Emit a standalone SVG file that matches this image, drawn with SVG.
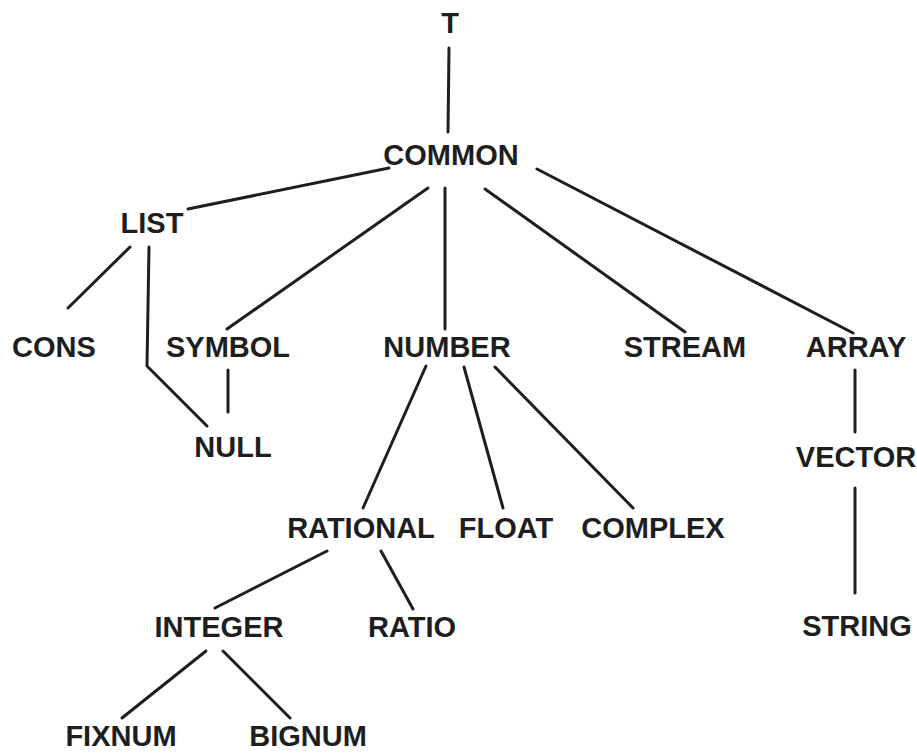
<svg xmlns="http://www.w3.org/2000/svg" width="917" height="753" viewBox="0 0 917 753">
<style>
  .lbl { font-family: "Liberation Sans", Arial, Helvetica, sans-serif; font-weight: bold; font-size: 29px; fill: #1e1e1e; text-anchor: middle; }
  .edge { stroke: #1e1e1e; stroke-width: 3; fill: none; stroke-linecap: round; stroke-linejoin: round; }
</style>
<rect width="917" height="753" fill="#ffffff"/>
<g id="connectors">
  <line class="edge" x1="449" y1="48" x2="448" y2="132"/>
  <line class="edge" x1="389" y1="168" x2="188" y2="209"/>
  <line class="edge" x1="428" y1="188" x2="227" y2="329"/>
  <line class="edge" x1="445" y1="188" x2="445" y2="329"/>
  <line class="edge" x1="485" y1="189" x2="685" y2="332"/>
  <line class="edge" x1="537" y1="169" x2="853" y2="333"/>
  <line class="edge" x1="130" y1="247" x2="68" y2="308"/>
  <polyline class="edge" points="149,247 147,366 207,426"/>
  <line class="edge" x1="228" y1="370" x2="228" y2="412"/>
  <line class="edge" x1="426" y1="366" x2="363" y2="508"/>
  <line class="edge" x1="464" y1="367" x2="503" y2="508"/>
  <line class="edge" x1="495" y1="367" x2="633" y2="508"/>
  <line class="edge" x1="855" y1="370" x2="855" y2="432"/>
  <line class="edge" x1="855" y1="488" x2="855" y2="593"/>
  <line class="edge" x1="327" y1="551" x2="215" y2="608"/>
  <line class="edge" x1="381" y1="551" x2="413" y2="609"/>
  <line class="edge" x1="206" y1="651" x2="122" y2="718"/>
  <line class="edge" x1="223" y1="651" x2="290" y2="718"/>
</g>
<g id="T"><text class="lbl" x="450" y="33">T</text></g>
<g id="COMMON"><text class="lbl" x="451" y="165">COMMON</text></g>
<g id="LIST"><text class="lbl" x="152" y="233">LIST</text></g>
<g id="CONS"><text class="lbl" x="54" y="357">CONS</text></g>
<g id="SYMBOL"><text class="lbl" x="228" y="357">SYMBOL</text></g>
<g id="NUMBER"><text class="lbl" x="447" y="357">NUMBER</text></g>
<g id="STREAM"><text class="lbl" x="685" y="357">STREAM</text></g>
<g id="ARRAY"><text class="lbl" x="856" y="357">ARRAY</text></g>
<g id="NULL"><text class="lbl" x="233" y="457">NULL</text></g>
<g id="VECTOR"><text class="lbl" x="856" y="467">VECTOR</text></g>
<g id="RATIONAL"><text class="lbl" x="361" y="538">RATIONAL</text></g>
<g id="FLOAT"><text class="lbl" x="506" y="538">FLOAT</text></g>
<g id="COMPLEX"><text class="lbl" x="653" y="538">COMPLEX</text></g>
<g id="INTEGER"><text class="lbl" x="219" y="637">INTEGER</text></g>
<g id="RATIO"><text class="lbl" x="412" y="637">RATIO</text></g>
<g id="STRING"><text class="lbl" x="857" y="636">STRING</text></g>
<g id="FIXNUM"><text class="lbl" x="121" y="746">FIXNUM</text></g>
<g id="BIGNUM"><text class="lbl" x="308" y="746">BIGNUM</text></g>
</svg>
